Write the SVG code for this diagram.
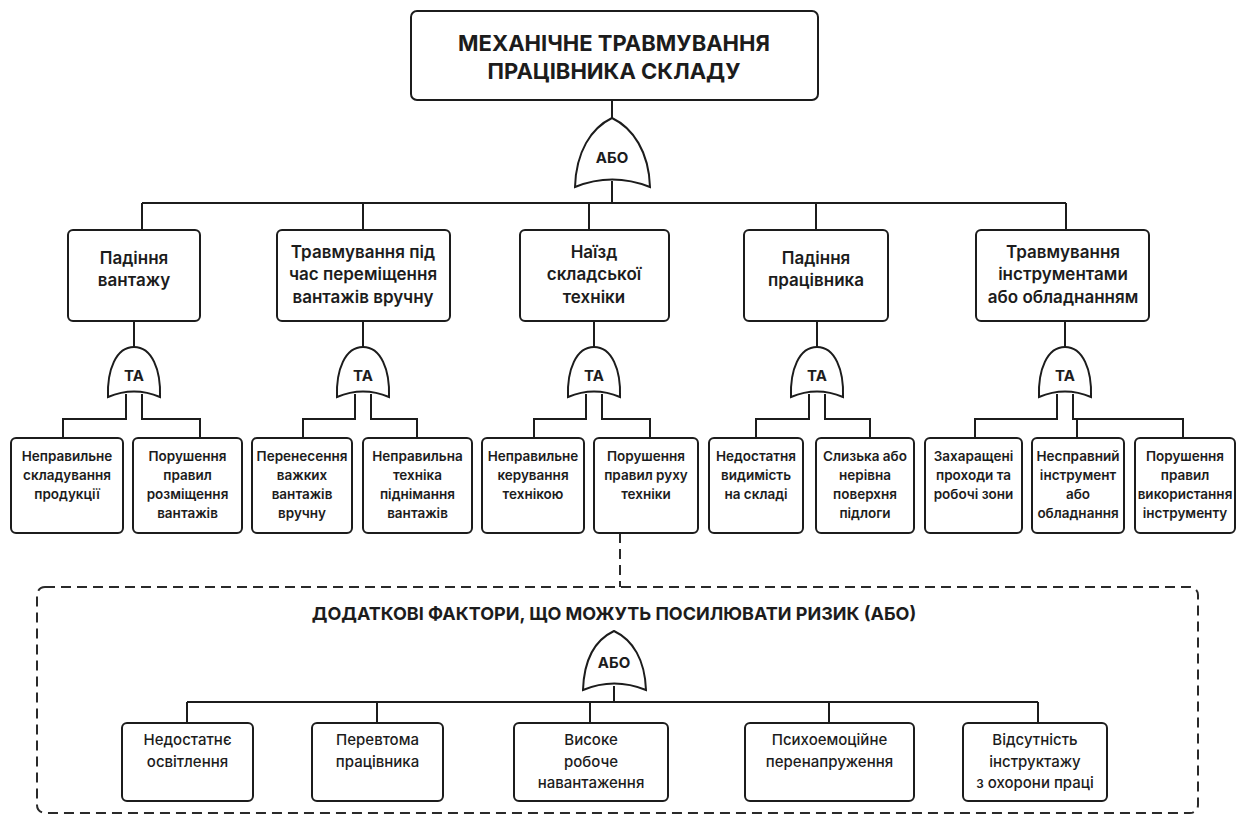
<svg xmlns="http://www.w3.org/2000/svg" width="1241" height="824" viewBox="0 0 1241 824">
<style>
.box{fill:#fff;stroke:#1c1c1c;stroke-width:2}
.ln{fill:none;stroke:#1c1c1c;stroke-width:2}
.dash{fill:none;stroke:#2a2a2a;stroke-width:2;stroke-dasharray:10 6}
.gate{fill:#fff;stroke:#1c1c1c;stroke-width:2}
text{font-family:Inter,"Noto Sans",sans-serif;fill:#1c1c1c;text-anchor:middle}
.title{font-size:22px;font-weight:700}
.sub{font-size:18px;font-weight:700}
.mid{font-size:17px;font-weight:600}
.leaf{font-size:13.5px;font-weight:600}
.bot{font-size:15px;font-weight:500}
.g{font-size:15px;font-weight:700}
</style>
<rect width="1241" height="824" fill="#fff"/>
<g id="connectors">
<path class="ln" d="M612,100V118M612,181V203M142,203H1066M142,203V230M363,203V230M589,203V230M816,203V230M1066,203V230"/>
<path class="ln" d="M134,321V347M363,321V347M594,321V347M817,321V347M1065,321V347"/>
<path class="ln" d="M126,394V419H63V438M142,394V419H200V438"/>
<path class="ln" d="M355,394V419H303V438M371,394V419H417V438"/>
<path class="ln" d="M586,394V419H534V438M602,394V419H650V438"/>
<path class="ln" d="M809,394V419H756V438M825,394V419H870V438"/>
<path class="ln" d="M1057,394V419H975V438M1073,394V419H1183V438M1077,419V438"/>
<path class="dash" d="M620,533V587"/>
<path class="ln" d="M614,686V702M187,702H1038M187,702V723M377,702V723M590,702V723M829,702V723M1038,702V723"/>
</g>
<g id="top">
<rect class="box" x="411" y="11" width="407" height="89" rx="6"/>
<text class="title" x="614" y="51">МЕХАНІЧНЕ ТРАВМУВАННЯ</text>
<text class="title" x="614" y="79">ПРАЦІВНИКА СКЛАДУ</text>
</g>
<g id="gate-or-top">
<path class="gate" d="M575,187C576,152 591,128 612,118C633,128 649,152 650,187Q612,172 575,187Z"/>
<text class="g" x="612" y="163">АБО</text>
</g>
<g id="e1"><rect class="box" x="68" y="230" width="132" height="91" rx="5"/>
<text class="mid" x="134" y="264">Падіння</text><text class="mid" x="134" y="286">вантажу</text></g>
<g id="e2"><rect class="box" x="277" y="230" width="173" height="91" rx="5"/>
<text class="mid" x="363" y="258">Травмування під</text><text class="mid" x="363" y="280">час переміщення</text><text class="mid" x="363" y="303">вантажів вручну</text></g>
<g id="e3"><rect class="box" x="520" y="230" width="149" height="91" rx="5"/>
<text class="mid" x="594" y="258">Наїзд</text><text class="mid" x="594" y="280">складської</text><text class="mid" x="594" y="303">техніки</text></g>
<g id="e4"><rect class="box" x="744" y="230" width="144" height="91" rx="5"/>
<text class="mid" x="816" y="264">Падіння</text><text class="mid" x="816" y="286">працівника</text></g>
<g id="e5"><rect class="box" x="976" y="230" width="173" height="91" rx="5"/>
<text class="mid" x="1063" y="258">Травмування</text><text class="mid" x="1063" y="280">інструментами</text><text class="mid" x="1063" y="303">або обладнанням</text></g>
<g id="gates-and">
<path class="gate" d="M108,397C107,370 116,347 134,347C152,347 161,370 160,397Q134,386 108,397Z"/><text class="g" x="134" y="381">ТА</text>
<path class="gate" d="M337,397C336,370 345,347 363,347C381,347 390,370 389,397Q363,386 337,397Z"/><text class="g" x="363" y="381">ТА</text>
<path class="gate" d="M568,397C567,370 576,347 594,347C612,347 621,370 620,397Q594,386 568,397Z"/><text class="g" x="594" y="381">ТА</text>
<path class="gate" d="M791,397C790,370 799,347 817,347C835,347 844,370 843,397Q817,386 791,397Z"/><text class="g" x="817" y="381">ТА</text>
<path class="gate" d="M1039,397C1038,370 1047,347 1065,347C1083,347 1092,370 1091,397Q1065,386 1039,397Z"/><text class="g" x="1065" y="381">ТА</text>
</g>
<g id="l1"><rect class="box" x="11" y="438" width="112" height="95" rx="5"/>
<text class="leaf" x="67" y="461">Неправильне</text><text class="leaf" x="67" y="480">складування</text><text class="leaf" x="67" y="499">продукції</text></g>
<g id="l2"><rect class="box" x="133" y="438" width="109" height="95" rx="5"/>
<text class="leaf" x="187.5" y="461">Порушення</text><text class="leaf" x="187.5" y="480">правил</text><text class="leaf" x="187.5" y="499">розміщення</text><text class="leaf" x="187.5" y="518">вантажів</text></g>
<g id="l3"><rect class="box" x="252" y="438" width="100" height="95" rx="5"/>
<text class="leaf" x="302" y="461">Перенесення</text><text class="leaf" x="302" y="480">важких</text><text class="leaf" x="302" y="499">вантажів</text><text class="leaf" x="302" y="518">вручну</text></g>
<g id="l4"><rect class="box" x="363" y="438" width="109" height="95" rx="5"/>
<text class="leaf" x="417.5" y="461">Неправильна</text><text class="leaf" x="417.5" y="480">техніка</text><text class="leaf" x="417.5" y="499">піднімання</text><text class="leaf" x="417.5" y="518">вантажів</text></g>
<g id="l5"><rect class="box" x="482" y="438" width="102" height="95" rx="5"/>
<text class="leaf" x="533" y="461">Неправильне</text><text class="leaf" x="533" y="480">керування</text><text class="leaf" x="533" y="499">технікою</text></g>
<g id="l6"><rect class="box" x="594" y="438" width="104" height="95" rx="5"/>
<text class="leaf" x="646" y="461">Порушення</text><text class="leaf" x="646" y="480">правил руху</text><text class="leaf" x="646" y="499">техніки</text></g>
<g id="l7"><rect class="box" x="709" y="438" width="94" height="95" rx="5"/>
<text class="leaf" x="756" y="461">Недостатня</text><text class="leaf" x="756" y="480">видимість</text><text class="leaf" x="756" y="499">на складі</text></g>
<g id="l8"><rect class="box" x="816" y="438" width="98" height="95" rx="5"/>
<text class="leaf" x="865" y="461">Слизька або</text><text class="leaf" x="865" y="480">нерівна</text><text class="leaf" x="865" y="499">поверхня</text><text class="leaf" x="865" y="518">підлоги</text></g>
<g id="l9"><rect class="box" x="925" y="438" width="97" height="95" rx="5"/>
<text class="leaf" x="973.5" y="461">Захаращені</text><text class="leaf" x="973.5" y="480">проходи та</text><text class="leaf" x="973.5" y="499">робочі зони</text></g>
<g id="l10"><rect class="box" x="1032" y="438" width="92" height="95" rx="5"/>
<text class="leaf" x="1078" y="461">Несправний</text><text class="leaf" x="1078" y="480">інструмент</text><text class="leaf" x="1078" y="499">або</text><text class="leaf" x="1078" y="518">обладнання</text></g>
<g id="l11"><rect class="box" x="1135" y="438" width="100" height="95" rx="5"/>
<text class="leaf" x="1185" y="461">Порушення</text><text class="leaf" x="1185" y="480">правил</text><text class="leaf" x="1185" y="499">використання</text><text class="leaf" x="1185" y="518">інструменту</text></g>
<g id="extra">
<rect class="dash" x="37" y="587" width="1161" height="226" rx="8"/>
<text class="sub" x="614" y="620">ДОДАТКОВІ ФАКТОРИ, ЩО МОЖУТЬ ПОСИЛЮВАТИ РИЗИК (АБО)</text>
</g>
<g id="gate-or-bottom">
<path class="gate" d="M583,690C584,660 595,640 614,631C633,640 645,660 646,690Q614,677 583,690Z"/>
<text class="g" x="614" y="668">АБО</text>
</g>
<g id="b1"><rect class="box" x="122" y="723" width="131" height="78" rx="5"/>
<text class="bot" x="187.5" y="745">Недостатнє</text><text class="bot" x="187.5" y="767">освітлення</text></g>
<g id="b2"><rect class="box" x="312" y="723" width="131" height="78" rx="5"/>
<text class="bot" x="377.5" y="745">Перевтома</text><text class="bot" x="377.5" y="767">працівника</text></g>
<g id="b3"><rect class="box" x="514" y="723" width="154" height="78" rx="5"/>
<text class="bot" x="591" y="745">Високе</text><text class="bot" x="591" y="767">робоче</text><text class="bot" x="591" y="788">навантаження</text></g>
<g id="b4"><rect class="box" x="745" y="723" width="169" height="78" rx="5"/>
<text class="bot" x="829.5" y="745">Психоемоційне</text><text class="bot" x="829.5" y="767">перенапруження</text></g>
<g id="b5"><rect class="box" x="963" y="723" width="144" height="78" rx="5"/>
<text class="bot" x="1035" y="745">Відсутність</text><text class="bot" x="1035" y="767">інструктажу</text><text class="bot" x="1035" y="788">з охорони праці</text></g>
</svg>
